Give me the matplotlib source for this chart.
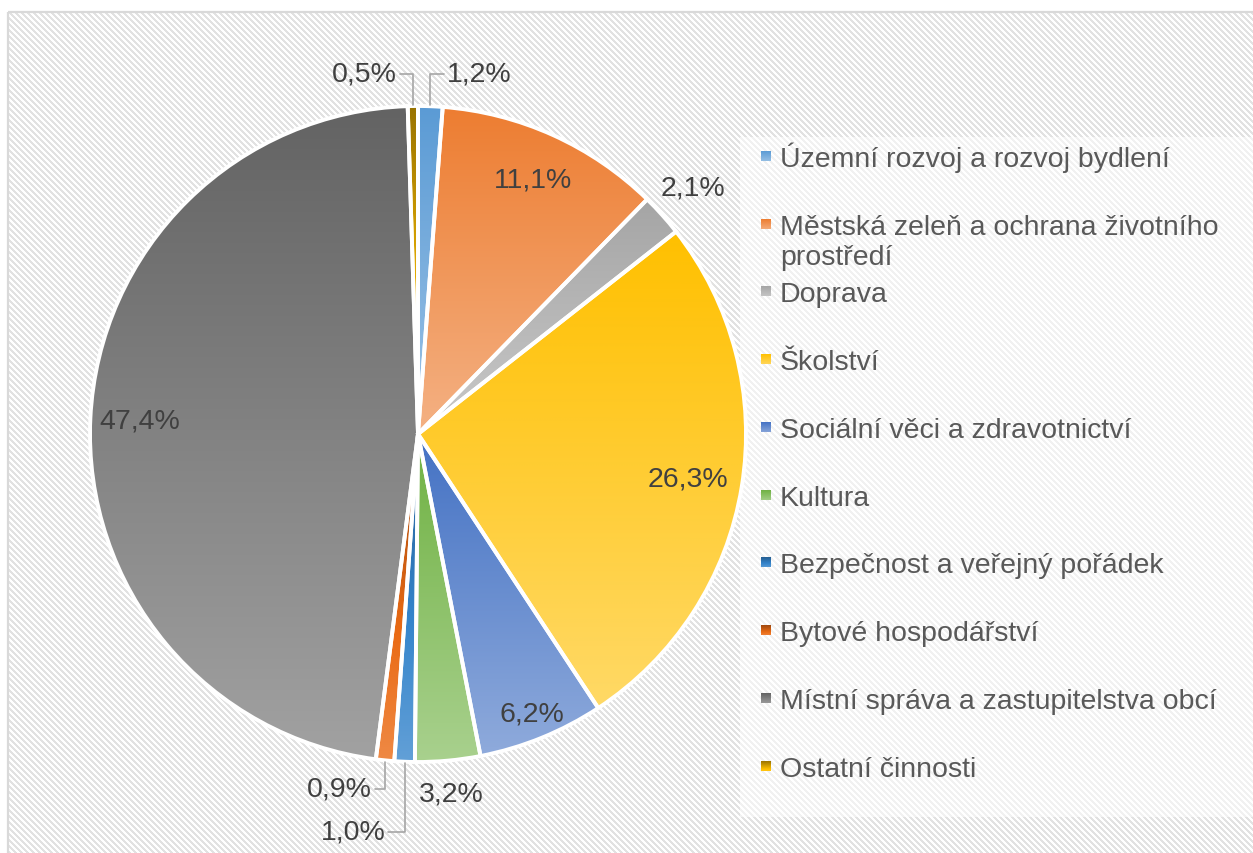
import colorsys
import numpy as np
import matplotlib
matplotlib.use("Agg")
import matplotlib.pyplot as plt
from matplotlib.colors import to_rgb
from matplotlib.patches import Rectangle

plt.rcParams['font.family'] = ['Liberation Sans', 'DejaVu Sans']

# ── data ────────────────────────────────────────────────────────────────────
categories = [
    "Územní rozvoj a rozvoj bydlení",
    "Městská zeleň a ochrana životního\nprostředí",
    "Doprava",
    "Školství",
    "Sociální věci a zdravotnictví",
    "Kultura",
    "Bezpečnost a veřejný pořádek",
    "Bytové hospodářství",
    "Místní správa a zastupitelstva obcí",
    "Ostatní činnosti",
]
values = [1.2, 11.1, 2.1, 26.3, 6.2, 3.2, 1.0, 0.9, 47.4, 0.5]
value_labels = ["1,2%", "11,1%", "2,1%", "26,3%", "6,2%", "3,2%", "1,0%", "0,9%", "47,4%", "0,5%"]
colors = ["#5B9BD5", "#ED7D31", "#A5A5A5", "#FFC000", "#4472C4",
          "#70AD47", "#255E91", "#9E480E", "#636363", "#997300"]

# ── layout ──────────────────────────────────────────────────────────────────
W, H = 1253, 854
CX, CY, R = 418, 435, 328          # pie centre / radius in pixels
TXT = "#404040"
LEG_TXT = "#595959"
FS = 20.5


def gradient(c, n=128, tint=0.4):
    # top: theme colour, bottom: same hue/saturation with raised lightness
    h, l, s = colorsys.rgb_to_hls(*to_rgb(c))
    rows = []
    for t in np.linspace(0, 1, n):
        rows.append(colorsys.hls_to_rgb(h, l + (1 - l) * tint * t, s))
    return np.array(rows).reshape(n, 1, 3)


fig = plt.figure(figsize=(W / 100, H / 100), dpi=100)

# background: striped chart area
bg = fig.add_axes([0, 0, 1, 1])
yy, xx = np.mgrid[0:H - 13, 0:W - 8]
tex = np.where(((xx - yy) % 6) < 3, 0.885, 1.0)
bg.imshow(tex, cmap="gray", vmin=0, vmax=1, extent=[8, W, H, 13],
          interpolation="nearest", aspect="auto", zorder=0)
bg.add_patch(Rectangle((8, 13), W, H, fill=False, edgecolor="#d9d9d9", lw=1.6, zorder=1))
bg.add_patch(Rectangle((740, 138), W - 740, 680, facecolor="white", alpha=0.55,
                       edgecolor="none", zorder=1))

# legend drawn by hand (gradient markers)
leg_base0, leg_step, line_dy = 166.7, 67.8, 31
for i, (cat, c) in enumerate(zip(categories, colors)):
    yb = leg_base0 + i * leg_step
    bg.imshow(gradient(c, tint=0.35), extent=[760.5, 770.5, yb - 5, yb - 15],
              aspect="auto", interpolation="bilinear", zorder=2)
    extra = cat.count("\n") * line_dy   # va="baseline" anchors the last line
    bg.text(780, yb + extra, cat, fontsize=FS, color=LEG_TXT, va="baseline", ha="left",
            linespacing=1.2, zorder=3)
bg.set_xlim(0, W)
bg.set_ylim(H, 0)
bg.axis("off")

# pie
a = 1.3 * R
ax = fig.add_axes([(CX - a) / W, (H - CY - a) / H, 2 * a / W, 2 * a / H])
wedges, _ = ax.pie(values, startangle=90, counterclock=False, radius=1,
                   wedgeprops=dict(facecolor="none", edgecolor="white",
                                   linewidth=2.8, zorder=3))
for w, c in zip(wedges, colors):
    ext = w.get_path().get_extents()
    im = ax.imshow(gradient(c), extent=[ext.x0, ext.x1, ext.y0, ext.y1],
                   origin="upper", aspect="auto", interpolation="bilinear", zorder=2)
    im.set_clip_path(w)

# labels: radius for plain labels, text anchor for leader-line labels
label_r = [None, 0.85, 1.125, 0.835, 0.92, 1.10, None, None, 0.85, None]
leader_xy = {0: (0.088, 1.098, "left"), 9: (-0.064, 1.098, "right"),
             7: (-0.14, -1.082, "right"), 6: (-0.10, -1.213, "right")}

for i, w in enumerate(wedges):
    ang = np.deg2rad((w.theta1 + w.theta2) / 2)
    if label_r[i] is not None:
        r = label_r[i]
        ax.text(r * np.cos(ang), r * np.sin(ang), value_labels[i], fontsize=FS,
                color=TXT, ha="center", va="center", zorder=5)
    else:
        tx, ty, ha = leader_xy[i]
        ax.annotate(value_labels[i], xy=(np.cos(ang), np.sin(ang)), xytext=(tx, ty),
                    fontsize=FS, color=TXT, ha=ha, va="center", zorder=5,
                    arrowprops=dict(arrowstyle="-", color="#a6a6a6", lw=1.2,
                                    connectionstyle="angle,angleA=0,angleB=90,rad=0",
                                    shrinkA=0, shrinkB=1))

ax.set_xlim(-1.3, 1.3)
ax.set_ylim(-1.3, 1.3)
ax.set_aspect("equal", adjustable="box")
ax.axis("off")

fig.savefig("out.png", dpi=100)
